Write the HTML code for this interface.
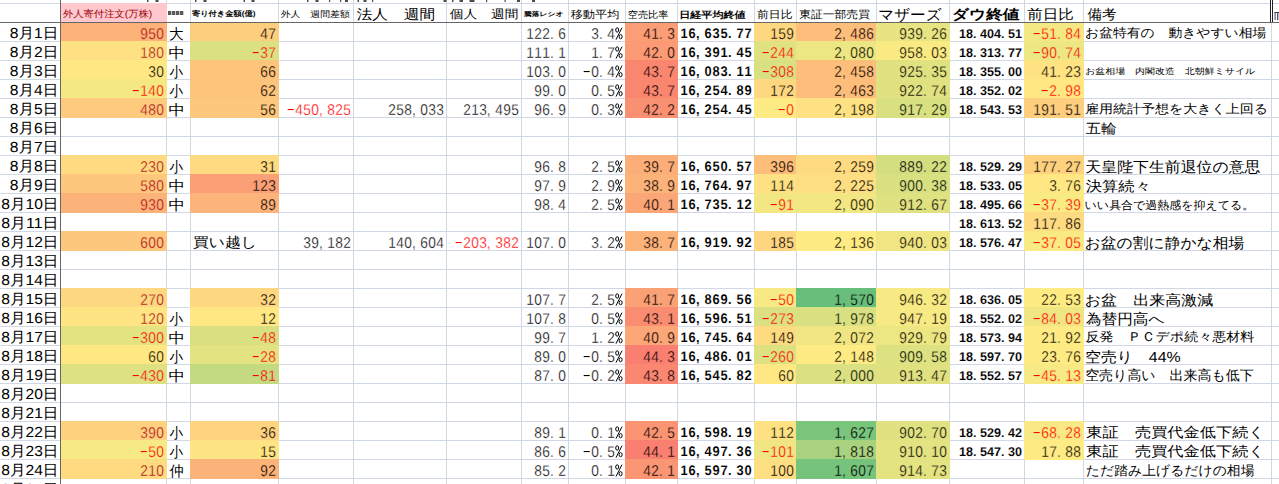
<!DOCTYPE html>
<html><head><meta charset="utf-8"><style>
html,body{margin:0;padding:0;background:#fff;overflow:hidden;width:1279px;height:484px}
svg{display:block}
text{font-family:"Liberation Sans",sans-serif;text-rendering:geometricPrecision}
</style></head><body>
<svg width="1279" height="484" viewBox="0 0 1279 484" font-family="Liberation Sans, sans-serif">
<defs><filter id="thin" x="0" y="0" width="1" height="1"><feComponentTransfer><feFuncA type="gamma" exponent="1.0"/></feComponentTransfer></filter></defs>
<rect x="166" y="0" width="1" height="484" fill="#d0d7e5"/>
<rect x="190" y="0" width="1" height="484" fill="#d0d7e5"/>
<rect x="278" y="0" width="1" height="484" fill="#d0d7e5"/>
<rect x="353" y="0" width="1" height="484" fill="#d0d7e5"/>
<rect x="446" y="0" width="1" height="484" fill="#d0d7e5"/>
<rect x="521" y="0" width="1" height="484" fill="#d0d7e5"/>
<rect x="568" y="0" width="1" height="484" fill="#d0d7e5"/>
<rect x="625" y="0" width="1" height="484" fill="#d0d7e5"/>
<rect x="677" y="0" width="1" height="484" fill="#d0d7e5"/>
<rect x="754" y="0" width="1" height="484" fill="#d0d7e5"/>
<rect x="796" y="0" width="1" height="484" fill="#d0d7e5"/>
<rect x="876" y="0" width="1" height="484" fill="#d0d7e5"/>
<rect x="949" y="0" width="1" height="484" fill="#d0d7e5"/>
<rect x="1024" y="0" width="1" height="484" fill="#d0d7e5"/>
<rect x="1083" y="0" width="1" height="484" fill="#d0d7e5"/>
<rect x="1271" y="0" width="1" height="484" fill="#d0d7e5"/>
<rect x="0" y="3" width="1279" height="1" fill="#d0d7e5"/>
<rect x="0" y="41" width="1279" height="1" fill="#d0d7e5"/>
<rect x="0" y="60" width="1279" height="1" fill="#d0d7e5"/>
<rect x="0" y="79" width="1279" height="1" fill="#d0d7e5"/>
<rect x="0" y="98" width="1279" height="1" fill="#d0d7e5"/>
<rect x="0" y="117" width="1279" height="1" fill="#d0d7e5"/>
<rect x="0" y="136" width="1279" height="1" fill="#d0d7e5"/>
<rect x="0" y="155" width="1279" height="1" fill="#d0d7e5"/>
<rect x="0" y="174" width="1279" height="1" fill="#d0d7e5"/>
<rect x="0" y="193" width="1279" height="1" fill="#d0d7e5"/>
<rect x="0" y="212" width="1279" height="1" fill="#d0d7e5"/>
<rect x="0" y="231" width="1279" height="1" fill="#d0d7e5"/>
<rect x="0" y="250" width="1279" height="1" fill="#d0d7e5"/>
<rect x="0" y="269" width="1279" height="1" fill="#d0d7e5"/>
<rect x="0" y="288" width="1279" height="1" fill="#d0d7e5"/>
<rect x="0" y="307" width="1279" height="1" fill="#d0d7e5"/>
<rect x="0" y="326" width="1279" height="1" fill="#d0d7e5"/>
<rect x="0" y="345" width="1279" height="1" fill="#d0d7e5"/>
<rect x="0" y="364" width="1279" height="1" fill="#d0d7e5"/>
<rect x="0" y="383" width="1279" height="1" fill="#d0d7e5"/>
<rect x="0" y="402" width="1279" height="1" fill="#d0d7e5"/>
<rect x="0" y="421" width="1279" height="1" fill="#d0d7e5"/>
<rect x="0" y="440" width="1279" height="1" fill="#d0d7e5"/>
<rect x="0" y="459" width="1279" height="1" fill="#d0d7e5"/>
<rect x="0" y="478" width="1279" height="1" fill="#d0d7e5"/>
<rect x="61" y="3" width="106" height="19" fill="#ffc7ce"/>
<rect x="60" y="23" width="107" height="19" fill="#fcb279"/>
<rect x="60" y="41" width="107" height="20" fill="#fee182"/>
<rect x="60" y="60" width="107" height="20" fill="#ffe884"/>
<rect x="60" y="79" width="107" height="20" fill="#f4e883"/>
<rect x="60" y="98" width="107" height="20" fill="#fdca7e"/>
<rect x="60" y="155" width="107" height="20" fill="#fedb81"/>
<rect x="60" y="174" width="107" height="20" fill="#fdc77d"/>
<rect x="60" y="193" width="107" height="20" fill="#fcb379"/>
<rect x="60" y="231" width="107" height="20" fill="#fdc77d"/>
<rect x="60" y="288" width="107" height="20" fill="#fed880"/>
<rect x="60" y="307" width="107" height="20" fill="#ffe483"/>
<rect x="60" y="326" width="107" height="20" fill="#e4e382"/>
<rect x="60" y="345" width="107" height="20" fill="#ffe884"/>
<rect x="60" y="364" width="107" height="20" fill="#dde182"/>
<rect x="60" y="421" width="107" height="20" fill="#fed17f"/>
<rect x="60" y="440" width="107" height="20" fill="#f7e984"/>
<rect x="60" y="459" width="107" height="20" fill="#fedb81"/>
<rect x="190" y="23" width="89" height="19" fill="#fdce7e"/>
<rect x="190" y="41" width="89" height="20" fill="#dbe182"/>
<rect x="190" y="60" width="89" height="20" fill="#fdc47c"/>
<rect x="190" y="79" width="89" height="20" fill="#fdc47c"/>
<rect x="190" y="98" width="89" height="20" fill="#fdc77d"/>
<rect x="190" y="155" width="89" height="20" fill="#fedb81"/>
<rect x="190" y="174" width="89" height="20" fill="#fba076"/>
<rect x="190" y="193" width="89" height="20" fill="#fcb47a"/>
<rect x="190" y="288" width="89" height="20" fill="#fed880"/>
<rect x="190" y="307" width="89" height="20" fill="#ffe783"/>
<rect x="190" y="326" width="89" height="20" fill="#d8e082"/>
<rect x="190" y="345" width="89" height="20" fill="#e3e382"/>
<rect x="190" y="364" width="89" height="20" fill="#c4da81"/>
<rect x="190" y="421" width="89" height="20" fill="#fed480"/>
<rect x="190" y="440" width="89" height="20" fill="#ffe483"/>
<rect x="190" y="459" width="89" height="20" fill="#fcb379"/>
<rect x="625" y="23" width="53" height="19" fill="#fb9d75"/>
<rect x="625" y="41" width="53" height="20" fill="#fb9a74"/>
<rect x="625" y="60" width="53" height="20" fill="#fa8670"/>
<rect x="625" y="79" width="53" height="20" fill="#fa8670"/>
<rect x="625" y="98" width="53" height="20" fill="#fa9072"/>
<rect x="625" y="155" width="53" height="20" fill="#fcae78"/>
<rect x="625" y="174" width="53" height="20" fill="#fcb379"/>
<rect x="625" y="193" width="53" height="20" fill="#fba677"/>
<rect x="625" y="231" width="53" height="20" fill="#fcb379"/>
<rect x="625" y="288" width="53" height="20" fill="#fba176"/>
<rect x="625" y="307" width="53" height="20" fill="#fa8c72"/>
<rect x="625" y="326" width="53" height="20" fill="#fba777"/>
<rect x="625" y="345" width="53" height="20" fill="#f98070"/>
<rect x="625" y="364" width="53" height="20" fill="#fa8771"/>
<rect x="625" y="421" width="53" height="20" fill="#fa9473"/>
<rect x="625" y="440" width="53" height="20" fill="#f98070"/>
<rect x="625" y="459" width="53" height="20" fill="#fa9674"/>
<rect x="754" y="23" width="43" height="19" fill="#fed880"/>
<rect x="754" y="41" width="43" height="20" fill="#e0e282"/>
<rect x="754" y="60" width="43" height="20" fill="#d8e082"/>
<rect x="754" y="79" width="43" height="20" fill="#fed880"/>
<rect x="754" y="98" width="43" height="20" fill="#ffeb84"/>
<rect x="754" y="155" width="43" height="20" fill="#fdbe7b"/>
<rect x="754" y="174" width="43" height="20" fill="#fee182"/>
<rect x="754" y="193" width="43" height="20" fill="#f3e783"/>
<rect x="754" y="231" width="43" height="20" fill="#fed580"/>
<rect x="754" y="288" width="43" height="20" fill="#f7e984"/>
<rect x="754" y="307" width="43" height="20" fill="#dbe182"/>
<rect x="754" y="326" width="43" height="20" fill="#fedb81"/>
<rect x="754" y="345" width="43" height="20" fill="#dde182"/>
<rect x="754" y="364" width="43" height="20" fill="#ffe783"/>
<rect x="754" y="421" width="43" height="20" fill="#fee182"/>
<rect x="754" y="440" width="43" height="20" fill="#efe683"/>
<rect x="754" y="459" width="43" height="20" fill="#fede82"/>
<rect x="796" y="23" width="81" height="19" fill="#fdbe7b"/>
<rect x="796" y="41" width="81" height="20" fill="#ece683"/>
<rect x="796" y="60" width="81" height="20" fill="#fdbe7b"/>
<rect x="796" y="79" width="81" height="20" fill="#fdbe7b"/>
<rect x="796" y="98" width="81" height="20" fill="#fee182"/>
<rect x="796" y="155" width="81" height="20" fill="#fedb81"/>
<rect x="796" y="174" width="81" height="20" fill="#fede82"/>
<rect x="796" y="193" width="81" height="20" fill="#f3e783"/>
<rect x="796" y="231" width="81" height="20" fill="#ffeb84"/>
<rect x="796" y="288" width="81" height="20" fill="#68bf7b"/>
<rect x="796" y="307" width="81" height="20" fill="#d8e082"/>
<rect x="796" y="326" width="81" height="20" fill="#efe683"/>
<rect x="796" y="345" width="81" height="20" fill="#ffeb84"/>
<rect x="796" y="364" width="81" height="20" fill="#dbe182"/>
<rect x="796" y="421" width="81" height="20" fill="#7ac57c"/>
<rect x="796" y="440" width="81" height="20" fill="#a9d27f"/>
<rect x="796" y="459" width="81" height="20" fill="#76c37c"/>
<rect x="876" y="23" width="74" height="19" fill="#e8e483"/>
<rect x="876" y="41" width="74" height="20" fill="#faea84"/>
<rect x="876" y="60" width="74" height="20" fill="#e0e282"/>
<rect x="876" y="79" width="74" height="20" fill="#e0e282"/>
<rect x="876" y="98" width="74" height="20" fill="#d8e082"/>
<rect x="876" y="155" width="74" height="20" fill="#d3de81"/>
<rect x="876" y="174" width="74" height="20" fill="#d8e082"/>
<rect x="876" y="193" width="74" height="20" fill="#e0e282"/>
<rect x="876" y="231" width="74" height="20" fill="#efe683"/>
<rect x="876" y="288" width="74" height="20" fill="#f7e984"/>
<rect x="876" y="307" width="74" height="20" fill="#f7e984"/>
<rect x="876" y="326" width="74" height="20" fill="#ece683"/>
<rect x="876" y="345" width="74" height="20" fill="#dde182"/>
<rect x="876" y="364" width="74" height="20" fill="#e0e282"/>
<rect x="876" y="421" width="74" height="20" fill="#e0e282"/>
<rect x="876" y="440" width="74" height="20" fill="#e3e382"/>
<rect x="876" y="459" width="74" height="20" fill="#e3e382"/>
<rect x="1024" y="23" width="60" height="19" fill="#f4e883"/>
<rect x="1024" y="41" width="60" height="20" fill="#ece683"/>
<rect x="1024" y="60" width="60" height="20" fill="#ffe282"/>
<rect x="1024" y="79" width="60" height="20" fill="#ffe884"/>
<rect x="1024" y="98" width="60" height="20" fill="#fdce7e"/>
<rect x="1024" y="155" width="60" height="20" fill="#fed17f"/>
<rect x="1024" y="174" width="60" height="20" fill="#ffe884"/>
<rect x="1024" y="193" width="60" height="20" fill="#faea84"/>
<rect x="1024" y="212" width="60" height="20" fill="#feda81"/>
<rect x="1024" y="231" width="60" height="20" fill="#faea84"/>
<rect x="1024" y="288" width="60" height="20" fill="#ffeb84"/>
<rect x="1024" y="307" width="60" height="20" fill="#efe683"/>
<rect x="1024" y="326" width="60" height="20" fill="#ffeb84"/>
<rect x="1024" y="345" width="60" height="20" fill="#ffeb84"/>
<rect x="1024" y="364" width="60" height="20" fill="#f7e984"/>
<rect x="1024" y="421" width="60" height="20" fill="#f9e984"/>
<rect x="1024" y="440" width="60" height="20" fill="#ffeb84"/>
<rect x="0" y="22" width="1279" height="1" fill="#666666"/>
<rect x="60" y="0" width="1" height="484" fill="#666666"/>
<rect x="1270" y="0" width="1" height="22" fill="#222"/>
<rect x="1272" y="0" width="1" height="22" fill="#222"/>
<rect x="1271" y="0" width="1" height="22" fill="#fff"/>
<rect x="168" y="11" width="3.3" height="4" fill="#111" opacity="0.7"/>
<rect x="172" y="11" width="3.3" height="4" fill="#111" opacity="0.7"/>
<rect x="176" y="11" width="3.3" height="4" fill="#111" opacity="0.7"/>
<rect x="180" y="11" width="3.3" height="4" fill="#111" opacity="0.7"/>
<rect x="1274.5" y="12" width="4.5" height="1" fill="#333"/>
<rect x="1274.6" y="12" width="1" height="8" fill="#2a4a8a"/>
<rect x="1277" y="12.5" width="1" height="7.5" fill="#8a4a2a"/>
<rect x="1278.6" y="12.5" width="0.9" height="7.5" fill="#4a6aaa"/>
<rect x="147" y="0" width="1.5" height="2" fill="#000" opacity="0.7"/>
<rect x="155.5" y="0" width="3" height="2" fill="#000" opacity="0.7"/>
<rect x="195" y="0" width="1.5" height="2" fill="#000" opacity="0.7"/>
<rect x="203.5" y="0" width="3" height="2" fill="#000" opacity="0.7"/>
<rect x="243.5" y="0" width="1.5" height="2" fill="#000" opacity="0.7"/>
<rect x="251.5" y="0" width="3" height="2" fill="#000" opacity="0.7"/>
<rect x="307" y="0" width="1.5" height="2" fill="#000" opacity="0.7"/>
<rect x="315.5" y="0" width="3" height="2" fill="#000" opacity="0.7"/>
<rect x="329" y="0" width="1.2" height="2" fill="#000" opacity="0.7"/>
<rect x="340" y="0" width="1.2" height="2" fill="#000" opacity="0.7"/>
<rect x="345" y="0" width="3" height="2" fill="#000" opacity="0.7"/>
<rect x="357.5" y="0" width="1.5" height="2" fill="#000" opacity="0.7"/>
<rect x="363.5" y="0" width="3" height="2" fill="#000" opacity="0.7"/>
<rect x="372" y="0" width="1.2" height="2" fill="#000" opacity="0.7"/>
<rect x="443.5" y="0" width="3" height="2" fill="#000" opacity="0.7"/>
<rect x="452" y="0" width="1.5" height="2" fill="#000" opacity="0.7"/>
<rect x="459.5" y="0" width="3.5" height="2" fill="#000" opacity="0.7"/>
<rect x="469.5" y="0" width="5" height="2" fill="#000" opacity="0.7"/>
<rect x="486" y="0" width="1.2" height="2" fill="#000" opacity="0.7"/>
<rect x="504.5" y="0" width="1.2" height="2" fill="#000" opacity="0.7"/>
<rect x="517" y="0" width="3" height="2" fill="#000" opacity="0.7"/>
<rect x="532" y="0" width="3" height="2" fill="#000" opacity="0.7"/>
<text transform="scale(0.88,1)" x="163.64 172.73 181.82" y="39" font-size="15.6" font-weight="400" fill="#a8101c" text-anchor="middle" stroke="#fcb279" stroke-width="0.3">950</text>
<text transform="scale(0.88,1)" x="300.00 309.09" y="39" font-size="15.6" font-weight="400" fill="#000" text-anchor="middle" stroke="#fdce7e" stroke-width="0.3">47</text>
<text transform="scale(0.88,1)" x="602.27 611.36 620.45 627.05 638.64" y="39" font-size="15.6" font-weight="400" fill="#000" text-anchor="middle" stroke="#ffffff" stroke-width="0.3">122.6</text>
<g fill="none" stroke="#000" stroke-width="1"><ellipse cx="617.20" cy="30.00" rx="1.5" ry="2.2"/><ellipse cx="620.60" cy="36.70" rx="1.5" ry="2.1"/><line x1="622.00" y1="27.70" x2="616.00" y2="39.60"/></g>
<text transform="scale(0.88,1)" x="676.14 682.73 694.32" y="39" font-size="15.6" font-weight="400" fill="#000" text-anchor="middle" stroke="#ffffff" stroke-width="0.3">3.4</text>
<text transform="scale(0.88,1)" x="735.23 744.32 750.91 762.50" y="39" font-size="15.6" font-weight="400" fill="#000" text-anchor="middle" stroke="#fb9d75" stroke-width="0.3">41.3</text>
<text transform="scale(0.92,1)" x="743.48 752.17 758.48 769.57 778.26 786.96 793.26 804.35 813.04" y="38" font-size="14.0" font-weight="700" fill="#000" text-anchor="middle" stroke="#ffffff" stroke-width="0.1">16,635.77</text>
<text transform="scale(0.88,1)" x="879.55 888.64 897.73" y="39" font-size="15.6" font-weight="400" fill="#000" text-anchor="middle" stroke="#fed880" stroke-width="0.3">159</text>
<text transform="scale(0.88,1)" x="952.27 958.86 970.45 979.55 988.64" y="39" font-size="15.6" font-weight="400" fill="#000" text-anchor="middle" stroke="#fdbe7b" stroke-width="0.3">2,486</text>
<text transform="scale(0.88,1)" x="1026.14 1035.23 1044.32 1050.91 1062.50 1071.59" y="39" font-size="15.6" font-weight="400" fill="#000" text-anchor="middle" stroke="#e8e483" stroke-width="0.3">939.26</text>
<text transform="scale(1.0,1)" x="962.50 969.50 974.80 983.50 990.50 997.50 1002.80 1011.50 1018.50" y="38" font-size="12.6" font-weight="700" fill="#000" text-anchor="middle" stroke="#ffffff" stroke-width="0.1">18.404.51</text>
<rect x="1033.70" y="33" width="6" height="1.1" fill="#ff0000"/>
<text transform="scale(0.88,1)" x="1187.50 1196.59 1203.18 1214.77 1223.86" y="39" font-size="15.6" font-weight="400" fill="#ff0000" text-anchor="middle" stroke="#f4e883" stroke-width="0.3">51.84</text>
<text transform="scale(0.88,1)" x="163.64 172.73 181.82" y="58" font-size="15.6" font-weight="400" fill="#a8101c" text-anchor="middle" stroke="#fee182" stroke-width="0.3">180</text>
<rect x="252.70" y="52" width="6" height="1.1" fill="#ff0000"/>
<text transform="scale(0.88,1)" x="300.00 309.09" y="58" font-size="15.6" font-weight="400" fill="#ff0000" text-anchor="middle" stroke="#dbe182" stroke-width="0.3">37</text>
<text transform="scale(0.88,1)" x="602.27 611.36 620.45 627.05 638.64" y="58" font-size="15.6" font-weight="400" fill="#000" text-anchor="middle" stroke="#ffffff" stroke-width="0.3">111.1</text>
<g fill="none" stroke="#000" stroke-width="1"><ellipse cx="617.20" cy="49.00" rx="1.5" ry="2.2"/><ellipse cx="620.60" cy="55.70" rx="1.5" ry="2.1"/><line x1="622.00" y1="46.70" x2="616.00" y2="58.60"/></g>
<text transform="scale(0.88,1)" x="676.14 682.73 694.32" y="58" font-size="15.6" font-weight="400" fill="#000" text-anchor="middle" stroke="#ffffff" stroke-width="0.3">1.7</text>
<text transform="scale(0.88,1)" x="735.23 744.32 750.91 762.50" y="58" font-size="15.6" font-weight="400" fill="#000" text-anchor="middle" stroke="#fb9a74" stroke-width="0.3">42.0</text>
<text transform="scale(0.92,1)" x="743.48 752.17 758.48 769.57 778.26 786.96 793.26 804.35 813.04" y="57" font-size="14.0" font-weight="700" fill="#000" text-anchor="middle" stroke="#ffffff" stroke-width="0.1">16,391.45</text>
<rect x="762.70" y="52" width="6" height="1.1" fill="#ff0000"/>
<text transform="scale(0.88,1)" x="879.55 888.64 897.73" y="58" font-size="15.6" font-weight="400" fill="#ff0000" text-anchor="middle" stroke="#e0e282" stroke-width="0.3">244</text>
<text transform="scale(0.88,1)" x="952.27 958.86 970.45 979.55 988.64" y="58" font-size="15.6" font-weight="400" fill="#000" text-anchor="middle" stroke="#ece683" stroke-width="0.3">2,080</text>
<text transform="scale(0.88,1)" x="1026.14 1035.23 1044.32 1050.91 1062.50 1071.59" y="58" font-size="15.6" font-weight="400" fill="#000" text-anchor="middle" stroke="#faea84" stroke-width="0.3">958.03</text>
<text transform="scale(1.0,1)" x="962.50 969.50 974.80 983.50 990.50 997.50 1002.80 1011.50 1018.50" y="57" font-size="12.6" font-weight="700" fill="#000" text-anchor="middle" stroke="#ffffff" stroke-width="0.1">18.313.77</text>
<rect x="1033.70" y="52" width="6" height="1.1" fill="#ff0000"/>
<text transform="scale(0.88,1)" x="1187.50 1196.59 1203.18 1214.77 1223.86" y="58" font-size="15.6" font-weight="400" fill="#ff0000" text-anchor="middle" stroke="#ece683" stroke-width="0.3">90.74</text>
<text transform="scale(0.88,1)" x="172.73 181.82" y="77" font-size="15.6" font-weight="400" fill="#000" text-anchor="middle" stroke="#ffe884" stroke-width="0.3">30</text>
<text transform="scale(0.88,1)" x="300.00 309.09" y="77" font-size="15.6" font-weight="400" fill="#000" text-anchor="middle" stroke="#fdc47c" stroke-width="0.3">66</text>
<text transform="scale(0.88,1)" x="602.27 611.36 620.45 627.05 638.64" y="77" font-size="15.6" font-weight="400" fill="#000" text-anchor="middle" stroke="#ffffff" stroke-width="0.3">103.0</text>
<rect x="583.70" y="71" width="6" height="1.1" fill="#000"/>
<g fill="none" stroke="#000" stroke-width="1"><ellipse cx="617.20" cy="68.00" rx="1.5" ry="2.2"/><ellipse cx="620.60" cy="74.70" rx="1.5" ry="2.1"/><line x1="622.00" y1="65.70" x2="616.00" y2="77.60"/></g>
<text transform="scale(0.88,1)" x="676.14 682.73 694.32" y="77" font-size="15.6" font-weight="400" fill="#000" text-anchor="middle" stroke="#ffffff" stroke-width="0.3">0.4</text>
<text transform="scale(0.88,1)" x="735.23 744.32 750.91 762.50" y="77" font-size="15.6" font-weight="400" fill="#000" text-anchor="middle" stroke="#fa8670" stroke-width="0.3">43.7</text>
<text transform="scale(0.92,1)" x="743.48 752.17 758.48 769.57 778.26 786.96 793.26 804.35 813.04" y="76" font-size="14.0" font-weight="700" fill="#000" text-anchor="middle" stroke="#ffffff" stroke-width="0.1">16,083.11</text>
<rect x="762.70" y="71" width="6" height="1.1" fill="#ff0000"/>
<text transform="scale(0.88,1)" x="879.55 888.64 897.73" y="77" font-size="15.6" font-weight="400" fill="#ff0000" text-anchor="middle" stroke="#d8e082" stroke-width="0.3">308</text>
<text transform="scale(0.88,1)" x="952.27 958.86 970.45 979.55 988.64" y="77" font-size="15.6" font-weight="400" fill="#000" text-anchor="middle" stroke="#fdbe7b" stroke-width="0.3">2,458</text>
<text transform="scale(0.88,1)" x="1026.14 1035.23 1044.32 1050.91 1062.50 1071.59" y="77" font-size="15.6" font-weight="400" fill="#000" text-anchor="middle" stroke="#e0e282" stroke-width="0.3">925.35</text>
<text transform="scale(1.0,1)" x="962.50 969.50 974.80 983.50 990.50 997.50 1002.80 1011.50 1018.50" y="76" font-size="12.6" font-weight="700" fill="#000" text-anchor="middle" stroke="#ffffff" stroke-width="0.1">18.355.00</text>
<text transform="scale(0.88,1)" x="1187.50 1196.59 1203.18 1214.77 1223.86" y="77" font-size="15.6" font-weight="400" fill="#000" text-anchor="middle" stroke="#ffe282" stroke-width="0.3">41.23</text>
<rect x="132.70" y="90" width="6" height="1.1" fill="#ff0000"/>
<text transform="scale(0.88,1)" x="163.64 172.73 181.82" y="96" font-size="15.6" font-weight="400" fill="#ff0000" text-anchor="middle" stroke="#f4e883" stroke-width="0.3">140</text>
<text transform="scale(0.88,1)" x="300.00 309.09" y="96" font-size="15.6" font-weight="400" fill="#000" text-anchor="middle" stroke="#fdc47c" stroke-width="0.3">62</text>
<text transform="scale(0.88,1)" x="611.36 620.45 627.05 638.64" y="96" font-size="15.6" font-weight="400" fill="#000" text-anchor="middle" stroke="#ffffff" stroke-width="0.3">99.0</text>
<g fill="none" stroke="#000" stroke-width="1"><ellipse cx="617.20" cy="87.00" rx="1.5" ry="2.2"/><ellipse cx="620.60" cy="93.70" rx="1.5" ry="2.1"/><line x1="622.00" y1="84.70" x2="616.00" y2="96.60"/></g>
<text transform="scale(0.88,1)" x="676.14 682.73 694.32" y="96" font-size="15.6" font-weight="400" fill="#000" text-anchor="middle" stroke="#ffffff" stroke-width="0.3">0.5</text>
<text transform="scale(0.88,1)" x="735.23 744.32 750.91 762.50" y="96" font-size="15.6" font-weight="400" fill="#000" text-anchor="middle" stroke="#fa8670" stroke-width="0.3">43.7</text>
<text transform="scale(0.92,1)" x="743.48 752.17 758.48 769.57 778.26 786.96 793.26 804.35 813.04" y="95" font-size="14.0" font-weight="700" fill="#000" text-anchor="middle" stroke="#ffffff" stroke-width="0.1">16,254.89</text>
<text transform="scale(0.88,1)" x="879.55 888.64 897.73" y="96" font-size="15.6" font-weight="400" fill="#000" text-anchor="middle" stroke="#fed880" stroke-width="0.3">172</text>
<text transform="scale(0.88,1)" x="952.27 958.86 970.45 979.55 988.64" y="96" font-size="15.6" font-weight="400" fill="#000" text-anchor="middle" stroke="#fdbe7b" stroke-width="0.3">2,463</text>
<text transform="scale(0.88,1)" x="1026.14 1035.23 1044.32 1050.91 1062.50 1071.59" y="96" font-size="15.6" font-weight="400" fill="#000" text-anchor="middle" stroke="#e0e282" stroke-width="0.3">922.74</text>
<text transform="scale(1.0,1)" x="962.50 969.50 974.80 983.50 990.50 997.50 1002.80 1011.50 1018.50" y="95" font-size="12.6" font-weight="700" fill="#000" text-anchor="middle" stroke="#ffffff" stroke-width="0.1">18.352.02</text>
<rect x="1041.70" y="90" width="6" height="1.1" fill="#ff0000"/>
<text transform="scale(0.88,1)" x="1196.59 1203.18 1214.77 1223.86" y="96" font-size="15.6" font-weight="400" fill="#ff0000" text-anchor="middle" stroke="#ffe884" stroke-width="0.3">2.98</text>
<text transform="scale(0.88,1)" x="163.64 172.73 181.82" y="115" font-size="15.6" font-weight="400" fill="#a8101c" text-anchor="middle" stroke="#fdca7e" stroke-width="0.3">480</text>
<text transform="scale(0.88,1)" x="300.00 309.09" y="115" font-size="15.6" font-weight="400" fill="#000" text-anchor="middle" stroke="#fdc77d" stroke-width="0.3">56</text>
<rect x="287.70" y="109" width="6" height="1.1" fill="#ff0000"/>
<text transform="scale(0.88,1)" x="339.77 348.86 357.95 364.55 376.14 385.23 394.32" y="115" font-size="15.6" font-weight="400" fill="#ff0000" text-anchor="middle" stroke="#ffffff" stroke-width="0.3">450,825</text>
<text transform="scale(0.88,1)" x="445.45 454.55 463.64 470.23 481.82 490.91 500.00" y="115" font-size="15.6" font-weight="400" fill="#000" text-anchor="middle" stroke="#ffffff" stroke-width="0.3">258,033</text>
<text transform="scale(0.88,1)" x="530.68 539.77 548.86 555.45 567.05 576.14 585.23" y="115" font-size="15.6" font-weight="400" fill="#000" text-anchor="middle" stroke="#ffffff" stroke-width="0.3">213,495</text>
<text transform="scale(0.88,1)" x="611.36 620.45 627.05 638.64" y="115" font-size="15.6" font-weight="400" fill="#000" text-anchor="middle" stroke="#ffffff" stroke-width="0.3">96.9</text>
<g fill="none" stroke="#000" stroke-width="1"><ellipse cx="617.20" cy="106.00" rx="1.5" ry="2.2"/><ellipse cx="620.60" cy="112.70" rx="1.5" ry="2.1"/><line x1="622.00" y1="103.70" x2="616.00" y2="115.60"/></g>
<text transform="scale(0.88,1)" x="676.14 682.73 694.32" y="115" font-size="15.6" font-weight="400" fill="#000" text-anchor="middle" stroke="#ffffff" stroke-width="0.3">0.3</text>
<text transform="scale(0.88,1)" x="735.23 744.32 750.91 762.50" y="115" font-size="15.6" font-weight="400" fill="#000" text-anchor="middle" stroke="#fa9072" stroke-width="0.3">42.2</text>
<text transform="scale(0.92,1)" x="743.48 752.17 758.48 769.57 778.26 786.96 793.26 804.35 813.04" y="114" font-size="14.0" font-weight="700" fill="#000" text-anchor="middle" stroke="#ffffff" stroke-width="0.1">16,254.45</text>
<rect x="778.70" y="109" width="6" height="1.1" fill="#ff0000"/>
<text transform="scale(0.88,1)" x="897.73" y="115" font-size="15.6" font-weight="400" fill="#ff0000" text-anchor="middle" stroke="#ffeb84" stroke-width="0.3">0</text>
<text transform="scale(0.88,1)" x="952.27 958.86 970.45 979.55 988.64" y="115" font-size="15.6" font-weight="400" fill="#000" text-anchor="middle" stroke="#fee182" stroke-width="0.3">2,198</text>
<text transform="scale(0.88,1)" x="1026.14 1035.23 1044.32 1050.91 1062.50 1071.59" y="115" font-size="15.6" font-weight="400" fill="#000" text-anchor="middle" stroke="#d8e082" stroke-width="0.3">917.29</text>
<text transform="scale(1.0,1)" x="962.50 969.50 974.80 983.50 990.50 997.50 1002.80 1011.50 1018.50" y="114" font-size="12.6" font-weight="700" fill="#000" text-anchor="middle" stroke="#ffffff" stroke-width="0.1">18.543.53</text>
<text transform="scale(0.88,1)" x="1178.41 1187.50 1196.59 1203.18 1214.77 1223.86" y="115" font-size="15.6" font-weight="400" fill="#000" text-anchor="middle" stroke="#fdce7e" stroke-width="0.3">191.51</text>
<text transform="scale(0.88,1)" x="163.64 172.73 181.82" y="172" font-size="15.6" font-weight="400" fill="#a8101c" text-anchor="middle" stroke="#fedb81" stroke-width="0.3">230</text>
<text transform="scale(0.88,1)" x="300.00 309.09" y="172" font-size="15.6" font-weight="400" fill="#000" text-anchor="middle" stroke="#fedb81" stroke-width="0.3">31</text>
<text transform="scale(0.88,1)" x="611.36 620.45 627.05 638.64" y="172" font-size="15.6" font-weight="400" fill="#000" text-anchor="middle" stroke="#ffffff" stroke-width="0.3">96.8</text>
<g fill="none" stroke="#000" stroke-width="1"><ellipse cx="617.20" cy="163.00" rx="1.5" ry="2.2"/><ellipse cx="620.60" cy="169.70" rx="1.5" ry="2.1"/><line x1="622.00" y1="160.70" x2="616.00" y2="172.60"/></g>
<text transform="scale(0.88,1)" x="676.14 682.73 694.32" y="172" font-size="15.6" font-weight="400" fill="#000" text-anchor="middle" stroke="#ffffff" stroke-width="0.3">2.5</text>
<text transform="scale(0.88,1)" x="735.23 744.32 750.91 762.50" y="172" font-size="15.6" font-weight="400" fill="#000" text-anchor="middle" stroke="#fcae78" stroke-width="0.3">39.7</text>
<text transform="scale(0.92,1)" x="743.48 752.17 758.48 769.57 778.26 786.96 793.26 804.35 813.04" y="171" font-size="14.0" font-weight="700" fill="#000" text-anchor="middle" stroke="#ffffff" stroke-width="0.1">16,650.57</text>
<text transform="scale(0.88,1)" x="879.55 888.64 897.73" y="172" font-size="15.6" font-weight="400" fill="#000" text-anchor="middle" stroke="#fdbe7b" stroke-width="0.3">396</text>
<text transform="scale(0.88,1)" x="952.27 958.86 970.45 979.55 988.64" y="172" font-size="15.6" font-weight="400" fill="#000" text-anchor="middle" stroke="#fedb81" stroke-width="0.3">2,259</text>
<text transform="scale(0.88,1)" x="1026.14 1035.23 1044.32 1050.91 1062.50 1071.59" y="172" font-size="15.6" font-weight="400" fill="#000" text-anchor="middle" stroke="#d3de81" stroke-width="0.3">889.22</text>
<text transform="scale(1.0,1)" x="962.50 969.50 974.80 983.50 990.50 997.50 1002.80 1011.50 1018.50" y="171" font-size="12.6" font-weight="700" fill="#000" text-anchor="middle" stroke="#ffffff" stroke-width="0.1">18.529.29</text>
<text transform="scale(0.88,1)" x="1178.41 1187.50 1196.59 1203.18 1214.77 1223.86" y="172" font-size="15.6" font-weight="400" fill="#000" text-anchor="middle" stroke="#fed17f" stroke-width="0.3">177.27</text>
<text transform="scale(0.88,1)" x="163.64 172.73 181.82" y="191" font-size="15.6" font-weight="400" fill="#a8101c" text-anchor="middle" stroke="#fdc77d" stroke-width="0.3">580</text>
<text transform="scale(0.88,1)" x="290.91 300.00 309.09" y="191" font-size="15.6" font-weight="400" fill="#000" text-anchor="middle" stroke="#fba076" stroke-width="0.3">123</text>
<text transform="scale(0.88,1)" x="611.36 620.45 627.05 638.64" y="191" font-size="15.6" font-weight="400" fill="#000" text-anchor="middle" stroke="#ffffff" stroke-width="0.3">97.9</text>
<g fill="none" stroke="#000" stroke-width="1"><ellipse cx="617.20" cy="182.00" rx="1.5" ry="2.2"/><ellipse cx="620.60" cy="188.70" rx="1.5" ry="2.1"/><line x1="622.00" y1="179.70" x2="616.00" y2="191.60"/></g>
<text transform="scale(0.88,1)" x="676.14 682.73 694.32" y="191" font-size="15.6" font-weight="400" fill="#000" text-anchor="middle" stroke="#ffffff" stroke-width="0.3">2.9</text>
<text transform="scale(0.88,1)" x="735.23 744.32 750.91 762.50" y="191" font-size="15.6" font-weight="400" fill="#000" text-anchor="middle" stroke="#fcb379" stroke-width="0.3">38.9</text>
<text transform="scale(0.92,1)" x="743.48 752.17 758.48 769.57 778.26 786.96 793.26 804.35 813.04" y="190" font-size="14.0" font-weight="700" fill="#000" text-anchor="middle" stroke="#ffffff" stroke-width="0.1">16,764.97</text>
<text transform="scale(0.88,1)" x="879.55 888.64 897.73" y="191" font-size="15.6" font-weight="400" fill="#000" text-anchor="middle" stroke="#fee182" stroke-width="0.3">114</text>
<text transform="scale(0.88,1)" x="952.27 958.86 970.45 979.55 988.64" y="191" font-size="15.6" font-weight="400" fill="#000" text-anchor="middle" stroke="#fede82" stroke-width="0.3">2,225</text>
<text transform="scale(0.88,1)" x="1026.14 1035.23 1044.32 1050.91 1062.50 1071.59" y="191" font-size="15.6" font-weight="400" fill="#000" text-anchor="middle" stroke="#d8e082" stroke-width="0.3">900.38</text>
<text transform="scale(1.0,1)" x="962.50 969.50 974.80 983.50 990.50 997.50 1002.80 1011.50 1018.50" y="190" font-size="12.6" font-weight="700" fill="#000" text-anchor="middle" stroke="#ffffff" stroke-width="0.1">18.533.05</text>
<text transform="scale(0.88,1)" x="1196.59 1203.18 1214.77 1223.86" y="191" font-size="15.6" font-weight="400" fill="#000" text-anchor="middle" stroke="#ffe884" stroke-width="0.3">3.76</text>
<text transform="scale(0.88,1)" x="163.64 172.73 181.82" y="210" font-size="15.6" font-weight="400" fill="#a8101c" text-anchor="middle" stroke="#fcb379" stroke-width="0.3">930</text>
<text transform="scale(0.88,1)" x="300.00 309.09" y="210" font-size="15.6" font-weight="400" fill="#000" text-anchor="middle" stroke="#fcb47a" stroke-width="0.3">89</text>
<text transform="scale(0.88,1)" x="611.36 620.45 627.05 638.64" y="210" font-size="15.6" font-weight="400" fill="#000" text-anchor="middle" stroke="#ffffff" stroke-width="0.3">98.4</text>
<g fill="none" stroke="#000" stroke-width="1"><ellipse cx="617.20" cy="201.00" rx="1.5" ry="2.2"/><ellipse cx="620.60" cy="207.70" rx="1.5" ry="2.1"/><line x1="622.00" y1="198.70" x2="616.00" y2="210.60"/></g>
<text transform="scale(0.88,1)" x="676.14 682.73 694.32" y="210" font-size="15.6" font-weight="400" fill="#000" text-anchor="middle" stroke="#ffffff" stroke-width="0.3">2.5</text>
<text transform="scale(0.88,1)" x="735.23 744.32 750.91 762.50" y="210" font-size="15.6" font-weight="400" fill="#000" text-anchor="middle" stroke="#fba677" stroke-width="0.3">40.1</text>
<text transform="scale(0.92,1)" x="743.48 752.17 758.48 769.57 778.26 786.96 793.26 804.35 813.04" y="209" font-size="14.0" font-weight="700" fill="#000" text-anchor="middle" stroke="#ffffff" stroke-width="0.1">16,735.12</text>
<rect x="770.70" y="204" width="6" height="1.1" fill="#ff0000"/>
<text transform="scale(0.88,1)" x="888.64 897.73" y="210" font-size="15.6" font-weight="400" fill="#ff0000" text-anchor="middle" stroke="#f3e783" stroke-width="0.3">91</text>
<text transform="scale(0.88,1)" x="952.27 958.86 970.45 979.55 988.64" y="210" font-size="15.6" font-weight="400" fill="#000" text-anchor="middle" stroke="#f3e783" stroke-width="0.3">2,090</text>
<text transform="scale(0.88,1)" x="1026.14 1035.23 1044.32 1050.91 1062.50 1071.59" y="210" font-size="15.6" font-weight="400" fill="#000" text-anchor="middle" stroke="#e0e282" stroke-width="0.3">912.67</text>
<text transform="scale(1.0,1)" x="962.50 969.50 974.80 983.50 990.50 997.50 1002.80 1011.50 1018.50" y="209" font-size="12.6" font-weight="700" fill="#000" text-anchor="middle" stroke="#ffffff" stroke-width="0.1">18.495.66</text>
<rect x="1033.70" y="204" width="6" height="1.1" fill="#ff0000"/>
<text transform="scale(0.88,1)" x="1187.50 1196.59 1203.18 1214.77 1223.86" y="210" font-size="15.6" font-weight="400" fill="#ff0000" text-anchor="middle" stroke="#faea84" stroke-width="0.3">37.39</text>
<text transform="scale(1.0,1)" x="962.50 969.50 974.80 983.50 990.50 997.50 1002.80 1011.50 1018.50" y="228" font-size="12.6" font-weight="700" fill="#000" text-anchor="middle" stroke="#ffffff" stroke-width="0.1">18.613.52</text>
<text transform="scale(0.88,1)" x="1178.41 1187.50 1196.59 1203.18 1214.77 1223.86" y="229" font-size="15.6" font-weight="400" fill="#000" text-anchor="middle" stroke="#feda81" stroke-width="0.3">117.86</text>
<text transform="scale(0.88,1)" x="163.64 172.73 181.82" y="248" font-size="15.6" font-weight="400" fill="#a8101c" text-anchor="middle" stroke="#fdc77d" stroke-width="0.3">600</text>
<text transform="scale(0.88,1)" x="348.86 357.95 364.55 376.14 385.23 394.32" y="248" font-size="15.6" font-weight="400" fill="#000" text-anchor="middle" stroke="#ffffff" stroke-width="0.3">39,182</text>
<text transform="scale(0.88,1)" x="445.45 454.55 463.64 470.23 481.82 490.91 500.00" y="248" font-size="15.6" font-weight="400" fill="#000" text-anchor="middle" stroke="#ffffff" stroke-width="0.3">140,604</text>
<rect x="455.70" y="242" width="6" height="1.1" fill="#ff0000"/>
<text transform="scale(0.88,1)" x="530.68 539.77 548.86 555.45 567.05 576.14 585.23" y="248" font-size="15.6" font-weight="400" fill="#ff0000" text-anchor="middle" stroke="#ffffff" stroke-width="0.3">203,382</text>
<text transform="scale(0.88,1)" x="602.27 611.36 620.45 627.05 638.64" y="248" font-size="15.6" font-weight="400" fill="#000" text-anchor="middle" stroke="#ffffff" stroke-width="0.3">107.0</text>
<g fill="none" stroke="#000" stroke-width="1"><ellipse cx="617.20" cy="239.00" rx="1.5" ry="2.2"/><ellipse cx="620.60" cy="245.70" rx="1.5" ry="2.1"/><line x1="622.00" y1="236.70" x2="616.00" y2="248.60"/></g>
<text transform="scale(0.88,1)" x="676.14 682.73 694.32" y="248" font-size="15.6" font-weight="400" fill="#000" text-anchor="middle" stroke="#ffffff" stroke-width="0.3">3.2</text>
<text transform="scale(0.88,1)" x="735.23 744.32 750.91 762.50" y="248" font-size="15.6" font-weight="400" fill="#000" text-anchor="middle" stroke="#fcb379" stroke-width="0.3">38.7</text>
<text transform="scale(0.92,1)" x="743.48 752.17 758.48 769.57 778.26 786.96 793.26 804.35 813.04" y="247" font-size="14.0" font-weight="700" fill="#000" text-anchor="middle" stroke="#ffffff" stroke-width="0.1">16,919.92</text>
<text transform="scale(0.88,1)" x="879.55 888.64 897.73" y="248" font-size="15.6" font-weight="400" fill="#000" text-anchor="middle" stroke="#fed580" stroke-width="0.3">185</text>
<text transform="scale(0.88,1)" x="952.27 958.86 970.45 979.55 988.64" y="248" font-size="15.6" font-weight="400" fill="#000" text-anchor="middle" stroke="#ffeb84" stroke-width="0.3">2,136</text>
<text transform="scale(0.88,1)" x="1026.14 1035.23 1044.32 1050.91 1062.50 1071.59" y="248" font-size="15.6" font-weight="400" fill="#000" text-anchor="middle" stroke="#efe683" stroke-width="0.3">940.03</text>
<text transform="scale(1.0,1)" x="962.50 969.50 974.80 983.50 990.50 997.50 1002.80 1011.50 1018.50" y="247" font-size="12.6" font-weight="700" fill="#000" text-anchor="middle" stroke="#ffffff" stroke-width="0.1">18.576.47</text>
<rect x="1033.70" y="242" width="6" height="1.1" fill="#ff0000"/>
<text transform="scale(0.88,1)" x="1187.50 1196.59 1203.18 1214.77 1223.86" y="248" font-size="15.6" font-weight="400" fill="#ff0000" text-anchor="middle" stroke="#faea84" stroke-width="0.3">37.05</text>
<text transform="scale(0.88,1)" x="163.64 172.73 181.82" y="305" font-size="15.6" font-weight="400" fill="#a8101c" text-anchor="middle" stroke="#fed880" stroke-width="0.3">270</text>
<text transform="scale(0.88,1)" x="300.00 309.09" y="305" font-size="15.6" font-weight="400" fill="#000" text-anchor="middle" stroke="#fed880" stroke-width="0.3">32</text>
<text transform="scale(0.88,1)" x="602.27 611.36 620.45 627.05 638.64" y="305" font-size="15.6" font-weight="400" fill="#000" text-anchor="middle" stroke="#ffffff" stroke-width="0.3">107.7</text>
<g fill="none" stroke="#000" stroke-width="1"><ellipse cx="617.20" cy="296.00" rx="1.5" ry="2.2"/><ellipse cx="620.60" cy="302.70" rx="1.5" ry="2.1"/><line x1="622.00" y1="293.70" x2="616.00" y2="305.60"/></g>
<text transform="scale(0.88,1)" x="676.14 682.73 694.32" y="305" font-size="15.6" font-weight="400" fill="#000" text-anchor="middle" stroke="#ffffff" stroke-width="0.3">2.5</text>
<text transform="scale(0.88,1)" x="735.23 744.32 750.91 762.50" y="305" font-size="15.6" font-weight="400" fill="#000" text-anchor="middle" stroke="#fba176" stroke-width="0.3">41.7</text>
<text transform="scale(0.92,1)" x="743.48 752.17 758.48 769.57 778.26 786.96 793.26 804.35 813.04" y="304" font-size="14.0" font-weight="700" fill="#000" text-anchor="middle" stroke="#ffffff" stroke-width="0.1">16,869.56</text>
<rect x="770.70" y="299" width="6" height="1.1" fill="#ff0000"/>
<text transform="scale(0.88,1)" x="888.64 897.73" y="305" font-size="15.6" font-weight="400" fill="#ff0000" text-anchor="middle" stroke="#f7e984" stroke-width="0.3">50</text>
<text transform="scale(0.88,1)" x="952.27 958.86 970.45 979.55 988.64" y="305" font-size="15.6" font-weight="400" fill="#000" text-anchor="middle" stroke="#68bf7b" stroke-width="0.3">1,570</text>
<text transform="scale(0.88,1)" x="1026.14 1035.23 1044.32 1050.91 1062.50 1071.59" y="305" font-size="15.6" font-weight="400" fill="#000" text-anchor="middle" stroke="#f7e984" stroke-width="0.3">946.32</text>
<text transform="scale(1.0,1)" x="962.50 969.50 974.80 983.50 990.50 997.50 1002.80 1011.50 1018.50" y="304" font-size="12.6" font-weight="700" fill="#000" text-anchor="middle" stroke="#ffffff" stroke-width="0.1">18.636.05</text>
<text transform="scale(0.88,1)" x="1187.50 1196.59 1203.18 1214.77 1223.86" y="305" font-size="15.6" font-weight="400" fill="#000" text-anchor="middle" stroke="#ffeb84" stroke-width="0.3">22.53</text>
<text transform="scale(0.88,1)" x="163.64 172.73 181.82" y="324" font-size="15.6" font-weight="400" fill="#a8101c" text-anchor="middle" stroke="#ffe483" stroke-width="0.3">120</text>
<text transform="scale(0.88,1)" x="300.00 309.09" y="324" font-size="15.6" font-weight="400" fill="#000" text-anchor="middle" stroke="#ffe783" stroke-width="0.3">12</text>
<text transform="scale(0.88,1)" x="602.27 611.36 620.45 627.05 638.64" y="324" font-size="15.6" font-weight="400" fill="#000" text-anchor="middle" stroke="#ffffff" stroke-width="0.3">107.8</text>
<g fill="none" stroke="#000" stroke-width="1"><ellipse cx="617.20" cy="315.00" rx="1.5" ry="2.2"/><ellipse cx="620.60" cy="321.70" rx="1.5" ry="2.1"/><line x1="622.00" y1="312.70" x2="616.00" y2="324.60"/></g>
<text transform="scale(0.88,1)" x="676.14 682.73 694.32" y="324" font-size="15.6" font-weight="400" fill="#000" text-anchor="middle" stroke="#ffffff" stroke-width="0.3">0.5</text>
<text transform="scale(0.88,1)" x="735.23 744.32 750.91 762.50" y="324" font-size="15.6" font-weight="400" fill="#000" text-anchor="middle" stroke="#fa8c72" stroke-width="0.3">43.1</text>
<text transform="scale(0.92,1)" x="743.48 752.17 758.48 769.57 778.26 786.96 793.26 804.35 813.04" y="323" font-size="14.0" font-weight="700" fill="#000" text-anchor="middle" stroke="#ffffff" stroke-width="0.1">16,596.51</text>
<rect x="762.70" y="318" width="6" height="1.1" fill="#ff0000"/>
<text transform="scale(0.88,1)" x="879.55 888.64 897.73" y="324" font-size="15.6" font-weight="400" fill="#ff0000" text-anchor="middle" stroke="#dbe182" stroke-width="0.3">273</text>
<text transform="scale(0.88,1)" x="952.27 958.86 970.45 979.55 988.64" y="324" font-size="15.6" font-weight="400" fill="#000" text-anchor="middle" stroke="#d8e082" stroke-width="0.3">1,978</text>
<text transform="scale(0.88,1)" x="1026.14 1035.23 1044.32 1050.91 1062.50 1071.59" y="324" font-size="15.6" font-weight="400" fill="#000" text-anchor="middle" stroke="#f7e984" stroke-width="0.3">947.19</text>
<text transform="scale(1.0,1)" x="962.50 969.50 974.80 983.50 990.50 997.50 1002.80 1011.50 1018.50" y="323" font-size="12.6" font-weight="700" fill="#000" text-anchor="middle" stroke="#ffffff" stroke-width="0.1">18.552.02</text>
<rect x="1033.70" y="318" width="6" height="1.1" fill="#ff0000"/>
<text transform="scale(0.88,1)" x="1187.50 1196.59 1203.18 1214.77 1223.86" y="324" font-size="15.6" font-weight="400" fill="#ff0000" text-anchor="middle" stroke="#efe683" stroke-width="0.3">84.03</text>
<rect x="132.70" y="337" width="6" height="1.1" fill="#ff0000"/>
<text transform="scale(0.88,1)" x="163.64 172.73 181.82" y="343" font-size="15.6" font-weight="400" fill="#ff0000" text-anchor="middle" stroke="#e4e382" stroke-width="0.3">300</text>
<rect x="252.70" y="337" width="6" height="1.1" fill="#ff0000"/>
<text transform="scale(0.88,1)" x="300.00 309.09" y="343" font-size="15.6" font-weight="400" fill="#ff0000" text-anchor="middle" stroke="#d8e082" stroke-width="0.3">48</text>
<text transform="scale(0.88,1)" x="611.36 620.45 627.05 638.64" y="343" font-size="15.6" font-weight="400" fill="#000" text-anchor="middle" stroke="#ffffff" stroke-width="0.3">99.7</text>
<g fill="none" stroke="#000" stroke-width="1"><ellipse cx="617.20" cy="334.00" rx="1.5" ry="2.2"/><ellipse cx="620.60" cy="340.70" rx="1.5" ry="2.1"/><line x1="622.00" y1="331.70" x2="616.00" y2="343.60"/></g>
<text transform="scale(0.88,1)" x="676.14 682.73 694.32" y="343" font-size="15.6" font-weight="400" fill="#000" text-anchor="middle" stroke="#ffffff" stroke-width="0.3">1.2</text>
<text transform="scale(0.88,1)" x="735.23 744.32 750.91 762.50" y="343" font-size="15.6" font-weight="400" fill="#000" text-anchor="middle" stroke="#fba777" stroke-width="0.3">40.9</text>
<text transform="scale(0.92,1)" x="743.48 752.17 758.48 769.57 778.26 786.96 793.26 804.35 813.04" y="342" font-size="14.0" font-weight="700" fill="#000" text-anchor="middle" stroke="#ffffff" stroke-width="0.1">16,745.64</text>
<text transform="scale(0.88,1)" x="879.55 888.64 897.73" y="343" font-size="15.6" font-weight="400" fill="#000" text-anchor="middle" stroke="#fedb81" stroke-width="0.3">149</text>
<text transform="scale(0.88,1)" x="952.27 958.86 970.45 979.55 988.64" y="343" font-size="15.6" font-weight="400" fill="#000" text-anchor="middle" stroke="#efe683" stroke-width="0.3">2,072</text>
<text transform="scale(0.88,1)" x="1026.14 1035.23 1044.32 1050.91 1062.50 1071.59" y="343" font-size="15.6" font-weight="400" fill="#000" text-anchor="middle" stroke="#ece683" stroke-width="0.3">929.79</text>
<text transform="scale(1.0,1)" x="962.50 969.50 974.80 983.50 990.50 997.50 1002.80 1011.50 1018.50" y="342" font-size="12.6" font-weight="700" fill="#000" text-anchor="middle" stroke="#ffffff" stroke-width="0.1">18.573.94</text>
<text transform="scale(0.88,1)" x="1187.50 1196.59 1203.18 1214.77 1223.86" y="343" font-size="15.6" font-weight="400" fill="#000" text-anchor="middle" stroke="#ffeb84" stroke-width="0.3">21.92</text>
<text transform="scale(0.88,1)" x="172.73 181.82" y="362" font-size="15.6" font-weight="400" fill="#000" text-anchor="middle" stroke="#ffe884" stroke-width="0.3">60</text>
<rect x="252.70" y="356" width="6" height="1.1" fill="#ff0000"/>
<text transform="scale(0.88,1)" x="300.00 309.09" y="362" font-size="15.6" font-weight="400" fill="#ff0000" text-anchor="middle" stroke="#e3e382" stroke-width="0.3">28</text>
<text transform="scale(0.88,1)" x="611.36 620.45 627.05 638.64" y="362" font-size="15.6" font-weight="400" fill="#000" text-anchor="middle" stroke="#ffffff" stroke-width="0.3">89.0</text>
<rect x="583.70" y="356" width="6" height="1.1" fill="#000"/>
<g fill="none" stroke="#000" stroke-width="1"><ellipse cx="617.20" cy="353.00" rx="1.5" ry="2.2"/><ellipse cx="620.60" cy="359.70" rx="1.5" ry="2.1"/><line x1="622.00" y1="350.70" x2="616.00" y2="362.60"/></g>
<text transform="scale(0.88,1)" x="676.14 682.73 694.32" y="362" font-size="15.6" font-weight="400" fill="#000" text-anchor="middle" stroke="#ffffff" stroke-width="0.3">0.5</text>
<text transform="scale(0.88,1)" x="735.23 744.32 750.91 762.50" y="362" font-size="15.6" font-weight="400" fill="#000" text-anchor="middle" stroke="#f98070" stroke-width="0.3">44.3</text>
<text transform="scale(0.92,1)" x="743.48 752.17 758.48 769.57 778.26 786.96 793.26 804.35 813.04" y="361" font-size="14.0" font-weight="700" fill="#000" text-anchor="middle" stroke="#ffffff" stroke-width="0.1">16,486.01</text>
<rect x="762.70" y="356" width="6" height="1.1" fill="#ff0000"/>
<text transform="scale(0.88,1)" x="879.55 888.64 897.73" y="362" font-size="15.6" font-weight="400" fill="#ff0000" text-anchor="middle" stroke="#dde182" stroke-width="0.3">260</text>
<text transform="scale(0.88,1)" x="952.27 958.86 970.45 979.55 988.64" y="362" font-size="15.6" font-weight="400" fill="#000" text-anchor="middle" stroke="#ffeb84" stroke-width="0.3">2,148</text>
<text transform="scale(0.88,1)" x="1026.14 1035.23 1044.32 1050.91 1062.50 1071.59" y="362" font-size="15.6" font-weight="400" fill="#000" text-anchor="middle" stroke="#dde182" stroke-width="0.3">909.58</text>
<text transform="scale(1.0,1)" x="962.50 969.50 974.80 983.50 990.50 997.50 1002.80 1011.50 1018.50" y="361" font-size="12.6" font-weight="700" fill="#000" text-anchor="middle" stroke="#ffffff" stroke-width="0.1">18.597.70</text>
<text transform="scale(0.88,1)" x="1187.50 1196.59 1203.18 1214.77 1223.86" y="362" font-size="15.6" font-weight="400" fill="#000" text-anchor="middle" stroke="#ffeb84" stroke-width="0.3">23.76</text>
<rect x="132.70" y="375" width="6" height="1.1" fill="#ff0000"/>
<text transform="scale(0.88,1)" x="163.64 172.73 181.82" y="381" font-size="15.6" font-weight="400" fill="#ff0000" text-anchor="middle" stroke="#dde182" stroke-width="0.3">430</text>
<rect x="252.70" y="375" width="6" height="1.1" fill="#ff0000"/>
<text transform="scale(0.88,1)" x="300.00 309.09" y="381" font-size="15.6" font-weight="400" fill="#ff0000" text-anchor="middle" stroke="#c4da81" stroke-width="0.3">81</text>
<text transform="scale(0.88,1)" x="611.36 620.45 627.05 638.64" y="381" font-size="15.6" font-weight="400" fill="#000" text-anchor="middle" stroke="#ffffff" stroke-width="0.3">87.0</text>
<rect x="583.70" y="375" width="6" height="1.1" fill="#000"/>
<g fill="none" stroke="#000" stroke-width="1"><ellipse cx="617.20" cy="372.00" rx="1.5" ry="2.2"/><ellipse cx="620.60" cy="378.70" rx="1.5" ry="2.1"/><line x1="622.00" y1="369.70" x2="616.00" y2="381.60"/></g>
<text transform="scale(0.88,1)" x="676.14 682.73 694.32" y="381" font-size="15.6" font-weight="400" fill="#000" text-anchor="middle" stroke="#ffffff" stroke-width="0.3">0.2</text>
<text transform="scale(0.88,1)" x="735.23 744.32 750.91 762.50" y="381" font-size="15.6" font-weight="400" fill="#000" text-anchor="middle" stroke="#fa8771" stroke-width="0.3">43.8</text>
<text transform="scale(0.92,1)" x="743.48 752.17 758.48 769.57 778.26 786.96 793.26 804.35 813.04" y="380" font-size="14.0" font-weight="700" fill="#000" text-anchor="middle" stroke="#ffffff" stroke-width="0.1">16,545.82</text>
<text transform="scale(0.88,1)" x="888.64 897.73" y="381" font-size="15.6" font-weight="400" fill="#000" text-anchor="middle" stroke="#ffe783" stroke-width="0.3">60</text>
<text transform="scale(0.88,1)" x="952.27 958.86 970.45 979.55 988.64" y="381" font-size="15.6" font-weight="400" fill="#000" text-anchor="middle" stroke="#dbe182" stroke-width="0.3">2,000</text>
<text transform="scale(0.88,1)" x="1026.14 1035.23 1044.32 1050.91 1062.50 1071.59" y="381" font-size="15.6" font-weight="400" fill="#000" text-anchor="middle" stroke="#e0e282" stroke-width="0.3">913.47</text>
<text transform="scale(1.0,1)" x="962.50 969.50 974.80 983.50 990.50 997.50 1002.80 1011.50 1018.50" y="380" font-size="12.6" font-weight="700" fill="#000" text-anchor="middle" stroke="#ffffff" stroke-width="0.1">18.552.57</text>
<rect x="1033.70" y="375" width="6" height="1.1" fill="#ff0000"/>
<text transform="scale(0.88,1)" x="1187.50 1196.59 1203.18 1214.77 1223.86" y="381" font-size="15.6" font-weight="400" fill="#ff0000" text-anchor="middle" stroke="#f7e984" stroke-width="0.3">45.13</text>
<text transform="scale(0.88,1)" x="163.64 172.73 181.82" y="438" font-size="15.6" font-weight="400" fill="#a8101c" text-anchor="middle" stroke="#fed17f" stroke-width="0.3">390</text>
<text transform="scale(0.88,1)" x="300.00 309.09" y="438" font-size="15.6" font-weight="400" fill="#000" text-anchor="middle" stroke="#fed480" stroke-width="0.3">36</text>
<text transform="scale(0.88,1)" x="611.36 620.45 627.05 638.64" y="438" font-size="15.6" font-weight="400" fill="#000" text-anchor="middle" stroke="#ffffff" stroke-width="0.3">89.1</text>
<g fill="none" stroke="#000" stroke-width="1"><ellipse cx="617.20" cy="429.00" rx="1.5" ry="2.2"/><ellipse cx="620.60" cy="435.70" rx="1.5" ry="2.1"/><line x1="622.00" y1="426.70" x2="616.00" y2="438.60"/></g>
<text transform="scale(0.88,1)" x="676.14 682.73 694.32" y="438" font-size="15.6" font-weight="400" fill="#000" text-anchor="middle" stroke="#ffffff" stroke-width="0.3">0.1</text>
<text transform="scale(0.88,1)" x="735.23 744.32 750.91 762.50" y="438" font-size="15.6" font-weight="400" fill="#000" text-anchor="middle" stroke="#fa9473" stroke-width="0.3">42.5</text>
<text transform="scale(0.92,1)" x="743.48 752.17 758.48 769.57 778.26 786.96 793.26 804.35 813.04" y="437" font-size="14.0" font-weight="700" fill="#000" text-anchor="middle" stroke="#ffffff" stroke-width="0.1">16,598.19</text>
<text transform="scale(0.88,1)" x="879.55 888.64 897.73" y="438" font-size="15.6" font-weight="400" fill="#000" text-anchor="middle" stroke="#fee182" stroke-width="0.3">112</text>
<text transform="scale(0.88,1)" x="952.27 958.86 970.45 979.55 988.64" y="438" font-size="15.6" font-weight="400" fill="#000" text-anchor="middle" stroke="#7ac57c" stroke-width="0.3">1,627</text>
<text transform="scale(0.88,1)" x="1026.14 1035.23 1044.32 1050.91 1062.50 1071.59" y="438" font-size="15.6" font-weight="400" fill="#000" text-anchor="middle" stroke="#e0e282" stroke-width="0.3">902.70</text>
<text transform="scale(1.0,1)" x="962.50 969.50 974.80 983.50 990.50 997.50 1002.80 1011.50 1018.50" y="437" font-size="12.6" font-weight="700" fill="#000" text-anchor="middle" stroke="#ffffff" stroke-width="0.1">18.529.42</text>
<rect x="1033.70" y="432" width="6" height="1.1" fill="#ff0000"/>
<text transform="scale(0.88,1)" x="1187.50 1196.59 1203.18 1214.77 1223.86" y="438" font-size="15.6" font-weight="400" fill="#ff0000" text-anchor="middle" stroke="#f9e984" stroke-width="0.3">68.28</text>
<rect x="140.70" y="451" width="6" height="1.1" fill="#ff0000"/>
<text transform="scale(0.88,1)" x="172.73 181.82" y="457" font-size="15.6" font-weight="400" fill="#ff0000" text-anchor="middle" stroke="#f7e984" stroke-width="0.3">50</text>
<text transform="scale(0.88,1)" x="300.00 309.09" y="457" font-size="15.6" font-weight="400" fill="#000" text-anchor="middle" stroke="#ffe483" stroke-width="0.3">15</text>
<text transform="scale(0.88,1)" x="611.36 620.45 627.05 638.64" y="457" font-size="15.6" font-weight="400" fill="#000" text-anchor="middle" stroke="#ffffff" stroke-width="0.3">86.6</text>
<rect x="583.70" y="451" width="6" height="1.1" fill="#000"/>
<g fill="none" stroke="#000" stroke-width="1"><ellipse cx="617.20" cy="448.00" rx="1.5" ry="2.2"/><ellipse cx="620.60" cy="454.70" rx="1.5" ry="2.1"/><line x1="622.00" y1="445.70" x2="616.00" y2="457.60"/></g>
<text transform="scale(0.88,1)" x="676.14 682.73 694.32" y="457" font-size="15.6" font-weight="400" fill="#000" text-anchor="middle" stroke="#ffffff" stroke-width="0.3">0.5</text>
<text transform="scale(0.88,1)" x="735.23 744.32 750.91 762.50" y="457" font-size="15.6" font-weight="400" fill="#000" text-anchor="middle" stroke="#f98070" stroke-width="0.3">44.1</text>
<text transform="scale(0.92,1)" x="743.48 752.17 758.48 769.57 778.26 786.96 793.26 804.35 813.04" y="456" font-size="14.0" font-weight="700" fill="#000" text-anchor="middle" stroke="#ffffff" stroke-width="0.1">16,497.36</text>
<rect x="762.70" y="451" width="6" height="1.1" fill="#ff0000"/>
<text transform="scale(0.88,1)" x="879.55 888.64 897.73" y="457" font-size="15.6" font-weight="400" fill="#ff0000" text-anchor="middle" stroke="#efe683" stroke-width="0.3">101</text>
<text transform="scale(0.88,1)" x="952.27 958.86 970.45 979.55 988.64" y="457" font-size="15.6" font-weight="400" fill="#000" text-anchor="middle" stroke="#a9d27f" stroke-width="0.3">1,818</text>
<text transform="scale(0.88,1)" x="1026.14 1035.23 1044.32 1050.91 1062.50 1071.59" y="457" font-size="15.6" font-weight="400" fill="#000" text-anchor="middle" stroke="#e3e382" stroke-width="0.3">910.10</text>
<text transform="scale(1.0,1)" x="962.50 969.50 974.80 983.50 990.50 997.50 1002.80 1011.50 1018.50" y="456" font-size="12.6" font-weight="700" fill="#000" text-anchor="middle" stroke="#ffffff" stroke-width="0.1">18.547.30</text>
<text transform="scale(0.88,1)" x="1187.50 1196.59 1203.18 1214.77 1223.86" y="457" font-size="15.6" font-weight="400" fill="#000" text-anchor="middle" stroke="#ffeb84" stroke-width="0.3">17.88</text>
<text transform="scale(0.88,1)" x="163.64 172.73 181.82" y="476" font-size="15.6" font-weight="400" fill="#a8101c" text-anchor="middle" stroke="#fedb81" stroke-width="0.3">210</text>
<text transform="scale(0.88,1)" x="300.00 309.09" y="476" font-size="15.6" font-weight="400" fill="#000" text-anchor="middle" stroke="#fcb379" stroke-width="0.3">92</text>
<text transform="scale(0.88,1)" x="611.36 620.45 627.05 638.64" y="476" font-size="15.6" font-weight="400" fill="#000" text-anchor="middle" stroke="#ffffff" stroke-width="0.3">85.2</text>
<g fill="none" stroke="#000" stroke-width="1"><ellipse cx="617.20" cy="467.00" rx="1.5" ry="2.2"/><ellipse cx="620.60" cy="473.70" rx="1.5" ry="2.1"/><line x1="622.00" y1="464.70" x2="616.00" y2="476.60"/></g>
<text transform="scale(0.88,1)" x="676.14 682.73 694.32" y="476" font-size="15.6" font-weight="400" fill="#000" text-anchor="middle" stroke="#ffffff" stroke-width="0.3">0.1</text>
<text transform="scale(0.88,1)" x="735.23 744.32 750.91 762.50" y="476" font-size="15.6" font-weight="400" fill="#000" text-anchor="middle" stroke="#fa9674" stroke-width="0.3">42.1</text>
<text transform="scale(0.92,1)" x="743.48 752.17 758.48 769.57 778.26 786.96 793.26 804.35 813.04" y="475" font-size="14.0" font-weight="700" fill="#000" text-anchor="middle" stroke="#ffffff" stroke-width="0.1">16,597.30</text>
<text transform="scale(0.88,1)" x="879.55 888.64 897.73" y="476" font-size="15.6" font-weight="400" fill="#000" text-anchor="middle" stroke="#fede82" stroke-width="0.3">100</text>
<text transform="scale(0.88,1)" x="952.27 958.86 970.45 979.55 988.64" y="476" font-size="15.6" font-weight="400" fill="#000" text-anchor="middle" stroke="#76c37c" stroke-width="0.3">1,607</text>
<text transform="scale(0.88,1)" x="1026.14 1035.23 1044.32 1050.91 1062.50 1071.59" y="476" font-size="15.6" font-weight="400" fill="#000" text-anchor="middle" stroke="#e3e382" stroke-width="0.3">914.73</text>
<g>
<text x="9.78" y="37.85" font-size="14.57" font-weight="400" fill="#000" textLength="48.62" lengthAdjust="spacingAndGlyphs">8月1日</text>
<text x="9.78" y="56.85" font-size="14.57" font-weight="400" fill="#000" textLength="48.62" lengthAdjust="spacingAndGlyphs">8月2日</text>
<text x="9.78" y="75.85" font-size="14.57" font-weight="400" fill="#000" textLength="48.62" lengthAdjust="spacingAndGlyphs">8月3日</text>
<text x="9.78" y="94.85" font-size="14.57" font-weight="400" fill="#000" textLength="48.62" lengthAdjust="spacingAndGlyphs">8月4日</text>
<text x="9.78" y="113.85" font-size="14.57" font-weight="400" fill="#000" textLength="48.62" lengthAdjust="spacingAndGlyphs">8月5日</text>
<text x="9.78" y="132.85" font-size="14.57" font-weight="400" fill="#000" textLength="48.62" lengthAdjust="spacingAndGlyphs">8月6日</text>
<text x="9.78" y="151.85" font-size="14.57" font-weight="400" fill="#000" textLength="48.62" lengthAdjust="spacingAndGlyphs">8月7日</text>
<text x="9.78" y="170.85" font-size="14.57" font-weight="400" fill="#000" textLength="48.62" lengthAdjust="spacingAndGlyphs">8月8日</text>
<text x="9.78" y="189.85" font-size="14.57" font-weight="400" fill="#000" textLength="48.62" lengthAdjust="spacingAndGlyphs">8月9日</text>
<text x="1.28" y="208.85" font-size="14.57" font-weight="400" fill="#000" textLength="57.21" lengthAdjust="spacingAndGlyphs">8月10日</text>
<text x="1.26" y="227.85" font-size="14.57" font-weight="400" fill="#000" textLength="57.21" lengthAdjust="spacingAndGlyphs">8月11日</text>
<text x="1.28" y="246.85" font-size="14.57" font-weight="400" fill="#000" textLength="57.21" lengthAdjust="spacingAndGlyphs">8月12日</text>
<text x="1.28" y="265.85" font-size="14.57" font-weight="400" fill="#000" textLength="57.21" lengthAdjust="spacingAndGlyphs">8月13日</text>
<text x="1.28" y="284.85" font-size="14.57" font-weight="400" fill="#000" textLength="57.21" lengthAdjust="spacingAndGlyphs">8月14日</text>
<text x="1.28" y="303.85" font-size="14.57" font-weight="400" fill="#000" textLength="57.21" lengthAdjust="spacingAndGlyphs">8月15日</text>
<text x="1.28" y="322.85" font-size="14.57" font-weight="400" fill="#000" textLength="57.21" lengthAdjust="spacingAndGlyphs">8月16日</text>
<text x="1.28" y="341.85" font-size="14.57" font-weight="400" fill="#000" textLength="57.21" lengthAdjust="spacingAndGlyphs">8月17日</text>
<text x="1.28" y="360.85" font-size="14.57" font-weight="400" fill="#000" textLength="57.21" lengthAdjust="spacingAndGlyphs">8月18日</text>
<text x="1.28" y="379.85" font-size="14.57" font-weight="400" fill="#000" textLength="57.21" lengthAdjust="spacingAndGlyphs">8月19日</text>
<text x="1.28" y="398.85" font-size="14.57" font-weight="400" fill="#000" textLength="57.21" lengthAdjust="spacingAndGlyphs">8月20日</text>
<text x="1.28" y="417.85" font-size="14.57" font-weight="400" fill="#000" textLength="57.21" lengthAdjust="spacingAndGlyphs">8月21日</text>
<text x="1.28" y="436.85" font-size="14.57" font-weight="400" fill="#000" textLength="57.21" lengthAdjust="spacingAndGlyphs">8月22日</text>
<text x="1.28" y="455.85" font-size="14.57" font-weight="400" fill="#000" textLength="57.21" lengthAdjust="spacingAndGlyphs">8月23日</text>
<text x="1.28" y="474.85" font-size="14.57" font-weight="400" fill="#000" textLength="57.21" lengthAdjust="spacingAndGlyphs">8月24日</text>
<text x="1.28" y="493.85" font-size="14.57" font-weight="400" fill="#000" textLength="57.21" lengthAdjust="spacingAndGlyphs">8月25日</text>
<text x="169.02" y="39.04" font-size="14.68" font-weight="400" fill="#000" textLength="14.62" lengthAdjust="spacingAndGlyphs">大</text>
<text x="168.61" y="58.04" font-size="14.68" font-weight="400" fill="#000" textLength="16.42" lengthAdjust="spacingAndGlyphs">中</text>
<text x="169.46" y="77.04" font-size="14.68" font-weight="400" fill="#000" textLength="13.57" lengthAdjust="spacingAndGlyphs">小</text>
<text x="169.46" y="96.04" font-size="14.68" font-weight="400" fill="#000" textLength="13.57" lengthAdjust="spacingAndGlyphs">小</text>
<text x="168.61" y="115.04" font-size="14.68" font-weight="400" fill="#000" textLength="16.42" lengthAdjust="spacingAndGlyphs">中</text>
<text x="169.46" y="172.04" font-size="14.68" font-weight="400" fill="#000" textLength="13.57" lengthAdjust="spacingAndGlyphs">小</text>
<text x="168.61" y="191.04" font-size="14.68" font-weight="400" fill="#000" textLength="16.42" lengthAdjust="spacingAndGlyphs">中</text>
<text x="168.61" y="210.04" font-size="14.68" font-weight="400" fill="#000" textLength="16.42" lengthAdjust="spacingAndGlyphs">中</text>
<text x="169.46" y="324.04" font-size="14.68" font-weight="400" fill="#000" textLength="13.57" lengthAdjust="spacingAndGlyphs">小</text>
<text x="168.61" y="343.04" font-size="14.68" font-weight="400" fill="#000" textLength="16.42" lengthAdjust="spacingAndGlyphs">中</text>
<text x="169.46" y="362.04" font-size="14.68" font-weight="400" fill="#000" textLength="13.57" lengthAdjust="spacingAndGlyphs">小</text>
<text x="168.61" y="381.04" font-size="14.68" font-weight="400" fill="#000" textLength="16.42" lengthAdjust="spacingAndGlyphs">中</text>
<text x="169.46" y="438.04" font-size="14.68" font-weight="400" fill="#000" textLength="13.57" lengthAdjust="spacingAndGlyphs">小</text>
<text x="169.46" y="457.04" font-size="14.68" font-weight="400" fill="#000" textLength="13.57" lengthAdjust="spacingAndGlyphs">小</text>
<text x="169.60" y="476.04" font-size="14.68" font-weight="400" fill="#000" textLength="14.30" lengthAdjust="spacingAndGlyphs">仲</text>
<text x="192.97" y="247.11" font-size="14.04" font-weight="400" fill="#000" textLength="63.88" lengthAdjust="spacingAndGlyphs">買い越し</text>
<text x="1085.10" y="37.01" font-size="12.45" font-weight="400" fill="#000" textLength="181.12" lengthAdjust="spacingAndGlyphs">お盆特有の　動きやすい相場</text>
<text x="1085.21" y="73.89" font-size="8.40" font-weight="400" fill="#000" textLength="170.06" lengthAdjust="spacingAndGlyphs">お盆相場　内閣改造　北朝鮮ミサイル</text>
<text x="1085.04" y="113.12" font-size="12.34" font-weight="400" fill="#000" textLength="183.01" lengthAdjust="spacingAndGlyphs">雇用統計予想を大きく上回る</text>
<text x="1085.79" y="133.29" font-size="13.40" font-weight="400" fill="#000" textLength="30.82" lengthAdjust="spacingAndGlyphs">五輪</text>
<text x="1085.36" y="172.04" font-size="14.68" font-weight="400" fill="#000" textLength="175.17" lengthAdjust="spacingAndGlyphs">天皇陛下生前退位の意思</text>
<text x="1085.67" y="190.69" font-size="14.26" font-weight="400" fill="#000" textLength="65.43" lengthAdjust="spacingAndGlyphs">決算続々</text>
<text x="1084.62" y="208.63" font-size="11.38" font-weight="400" fill="#000" textLength="169.76" lengthAdjust="spacingAndGlyphs">いい具合で過熱感を抑えてる。</text>
<text x="1084.74" y="248.04" font-size="14.68" font-weight="400" fill="#000" textLength="159.45" lengthAdjust="spacingAndGlyphs">お盆の割に静かな相場</text>
<text x="1084.72" y="304.69" font-size="14.26" font-weight="400" fill="#000" textLength="128.48" lengthAdjust="spacingAndGlyphs">お盆　出来高激減</text>
<text x="1085.69" y="324.04" font-size="14.68" font-weight="400" fill="#000" textLength="79.00" lengthAdjust="spacingAndGlyphs">為替円高へ</text>
<text x="1085.44" y="341.47" font-size="12.77" font-weight="400" fill="#000" textLength="168.88" lengthAdjust="spacingAndGlyphs">反発　ＰＣデポ続々悪材料</text>
<text x="1085.05" y="362.04" font-size="14.68" font-weight="400" fill="#000" textLength="95.51" lengthAdjust="spacingAndGlyphs">空売り　44%</text>
<text x="1085.16" y="379.54" font-size="13.83" font-weight="400" fill="#000" textLength="168.60" lengthAdjust="spacingAndGlyphs">空売り高い　出来高も低下</text>
<text x="1086.38" y="437.31" font-size="14.04" font-weight="400" fill="#000" textLength="178.55" lengthAdjust="spacingAndGlyphs">東証　売買代金低下続く</text>
<text x="1086.38" y="456.31" font-size="14.04" font-weight="400" fill="#000" textLength="178.55" lengthAdjust="spacingAndGlyphs">東証　売買代金低下続く</text>
<text x="1085.87" y="474.72" font-size="13.19" font-weight="400" fill="#000" textLength="168.65" lengthAdjust="spacingAndGlyphs">ただ踏み上げるだけの相場</text>
<text x="62.90" y="17.35" font-size="9.57" font-weight="400" fill="#9c0006" textLength="89.38" lengthAdjust="spacingAndGlyphs">外人寄付注文(万株)</text>
<text x="191.92" y="16.49" font-size="7.24" font-weight="700" fill="#000" textLength="63.52" lengthAdjust="spacingAndGlyphs">寄り付き金額(億)</text>
<text x="280.70" y="16.57" font-size="8.62" font-weight="400" fill="#000" textLength="69.09" lengthAdjust="spacingAndGlyphs">外人　週間差額</text>
<text x="356.69" y="19.35" font-size="13.72" font-weight="400" fill="#000" textLength="78.37" lengthAdjust="spacingAndGlyphs">法人　週間</text>
<text x="449.70" y="18.38" font-size="11.81" font-weight="400" fill="#000" textLength="68.70" lengthAdjust="spacingAndGlyphs">個人　週間</text>
<text x="524.00" y="16.04" font-size="6.12" font-weight="700" fill="#000" textLength="39.54" lengthAdjust="spacingAndGlyphs">騰落レシオ</text>
<text x="570.68" y="18.21" font-size="10.74" font-weight="400" fill="#000" textLength="48.72" lengthAdjust="spacingAndGlyphs">移動平均</text>
<text x="627.89" y="17.73" font-size="9.79" font-weight="400" fill="#000" textLength="40.41" lengthAdjust="spacingAndGlyphs">空売比率</text>
<text x="679.25" y="17.59" font-size="9.39" font-weight="700" fill="#000" textLength="66.37" lengthAdjust="spacingAndGlyphs">日経平均終値</text>
<text x="757.06" y="17.72" font-size="10.64" font-weight="400" fill="#000" textLength="35.45" lengthAdjust="spacingAndGlyphs">前日比</text>
<text x="799.16" y="17.62" font-size="10.64" font-weight="400" fill="#000" textLength="70.81" lengthAdjust="spacingAndGlyphs">東証一部売買</text>
<text x="878.26" y="19.56" font-size="15.32" font-weight="400" fill="#000" textLength="63.30" lengthAdjust="spacingAndGlyphs">マザーズ</text>
<text x="952.03" y="19.39" font-size="13.67" font-weight="700" fill="#000" textLength="67.55" lengthAdjust="spacingAndGlyphs">ダウ終値</text>
<text x="1027.19" y="19.34" font-size="13.83" font-weight="400" fill="#000" textLength="46.54" lengthAdjust="spacingAndGlyphs">前日比</text>
<text x="1087.60" y="19.34" font-size="13.83" font-weight="400" fill="#000" textLength="28.88" lengthAdjust="spacingAndGlyphs">備考</text>
</g>
</svg></body></html>
